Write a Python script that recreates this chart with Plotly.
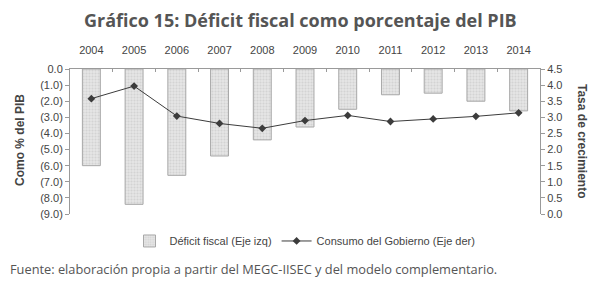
import plotly.graph_objects as go

years = ["2004", "2005", "2006", "2007", "2008", "2009", "2010", "2011", "2012", "2013", "2014"]
deficit = [-6.0, -8.4, -6.6, -5.4, -4.4, -3.6, -2.5, -1.6, -1.5, -2.0, -2.6]
consumo = [3.58, 3.97, 3.04, 2.81, 2.66, 2.90, 3.06, 2.87, 2.95, 3.03, 3.14]
left_ticks = [0, -1, -2, -3, -4, -5, -6, -7, -8, -9]
left_ticktext = ["0.0", "(1.0)", "(2.0)", "(3.0)", "(4.0)", "(5.0)", "(6.0)", "(7.0)", "(8.0)", "(9.0)"]

AX = "#9a9a9a"
TXT = "#444444"
FONT = "Liberation Sans, Arial, sans-serif"

fig = go.Figure()
fig.add_trace(go.Bar(
    x=years, y=deficit, name="Déficit fiscal (Eje izq)",
    marker=dict(color="#e6e6e6", line=dict(color="#a8a8a8", width=1),
                pattern=dict(shape=".", fgcolor="#c0c0c0", size=3, solidity=0.4)),
    yaxis="y",
))
fig.add_trace(go.Scatter(
    x=years, y=consumo, name="Consumo del Gobierno (Eje der)",
    mode="lines+markers", line=dict(color="#3c3c3c", width=1),
    marker=dict(symbol="diamond", size=6, color="#3c3c3c"),
    yaxis="y2",
))

fig.update_layout(
    width=599, height=284,
    margin=dict(l=70, r=59, t=69, b=70, autoexpand=False),
    paper_bgcolor="white", plot_bgcolor="white",
    font=dict(family=FONT, size=11, color=TXT),
    bargap=0.58,
    showlegend=True,
    legend=dict(orientation="h", x=0.5, xanchor="center", y=-0.186, yanchor="middle",
                font=dict(size=11, color=TXT), tracegroupgap=0),
    xaxis=dict(type="category", side="top", range=[-0.5, len(years) - 0.5],
               showline=True, linecolor=AX, linewidth=1,
               ticks="inside", ticklen=3, tickcolor=AX, tickson="boundaries",
               showgrid=False, zeroline=False, ticklabelstandoff=10, automargin=False,
               tickfont=dict(size=11, color=TXT)),
    yaxis=dict(range=[-9, 0], tickvals=left_ticks, ticktext=left_ticktext,
               showline=True, linecolor=AX, linewidth=1, ticks="outside", ticklen=4,
               tickcolor=AX, showgrid=False, zeroline=False, automargin=False,
               tickfont=dict(size=11, color=TXT)),
    yaxis2=dict(range=[0, 4.5], dtick=0.5, tickformat=".1f", overlaying="y", side="right",
                showline=True, linecolor=AX, linewidth=1, ticks="outside", ticklen=4,
                tickcolor=AX, showgrid=False, zeroline=False, automargin=False,
                tickfont=dict(size=11, color=TXT)),
)

fig.add_annotation(text="<b>Gráfico 15: Déficit fiscal como porcentaje del PIB</b>",
                   xref="paper", yref="paper", x=(300 - 70) / 470, y=(214 - 20) / 145,
                   xanchor="center", yanchor="middle", showarrow=False,
                   font=dict(family="Open Sans, sans-serif", size=18, color="#555555"))
fig.add_annotation(text="<b>Como % del PIB</b>", textangle=-90,
                   xref="paper", yref="paper", x=(20 - 70) / 470, y=(214 - 140) / 145,
                   xanchor="center", yanchor="middle", showarrow=False,
                   font=dict(family=FONT, size=12, color=TXT))
fig.add_annotation(text="<b>Tasa de crecimiento</b>", textangle=90,
                   xref="paper", yref="paper", x=(582 - 70) / 470, y=(214 - 141) / 145,
                   xanchor="center", yanchor="middle", showarrow=False,
                   font=dict(family=FONT, size=12, color=TXT))
fig.add_annotation(text="Fuente: elaboración propia a partir del MEGC-IISEC y del modelo complementario.",
                   xref="paper", yref="paper", x=(8 - 70) / 470, y=(214 - 269) / 145,
                   xanchor="left", yanchor="middle", showarrow=False,
                   font=dict(family="Open Sans, sans-serif", size=12.8, color="#555555"))

fig.write_html("out.html", config={"displayModeBar": False},
               post_script="document.body.style.margin='0';")
